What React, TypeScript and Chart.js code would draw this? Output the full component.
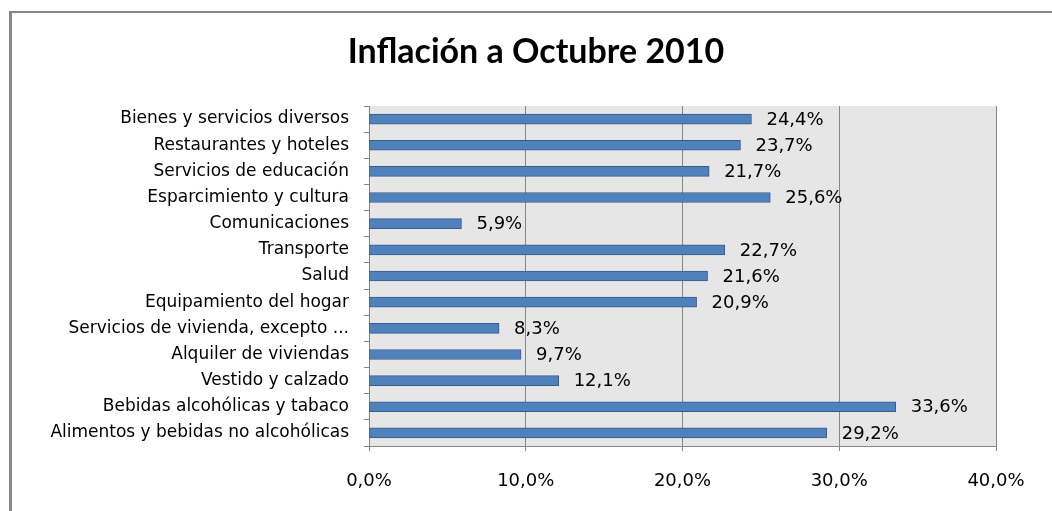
import React, { useEffect, useRef } from "react";
import { Chart, registerables } from "chart.js";

Chart.register(...registerables);

const categories = [
  "Bienes y servicios diversos",
  "Restaurantes y hoteles",
  "Servicios de educación",
  "Esparcimiento y cultura",
  "Comunicaciones",
  "Transporte",
  "Salud",
  "Equipamiento del hogar",
  "Servicios de vivienda, excepto ...",
  "Alquiler de viviendas",
  "Vestido y calzado",
  "Bebidas alcohólicas y tabaco",
  "Alimentos y bebidas no alcohólicas",
];
const values = [24.4, 23.7, 21.7, 25.6, 5.9, 22.7, 21.6, 20.9, 8.3, 9.7, 12.1, 33.6, 29.2];
const xTicks = [0, 10, 20, 30, 40];
const title = "Inflación a Octubre 2010";

const fmt = (v: number) => v.toFixed(1).replace(".", ",") + "%";

const FONT = "'DejaVu Sans'";

const framePlugin = {
  id: "frame",
  beforeDraw(chart: any) {
    const { ctx, chartArea } = chart;
    ctx.save();
    ctx.fillStyle = "#ffffff";
    ctx.fillRect(0, 0, chart.width, chart.height);
    ctx.fillStyle = "#878787";
    ctx.fillRect(9, 11, 3, chart.height);
    ctx.fillRect(9, 11, chart.width, 2);
    ctx.fillStyle = "#e6e6e6";
    ctx.fillRect(chartArea.left, chartArea.top, chartArea.right - chartArea.left, chartArea.bottom - chartArea.top);
    ctx.restore();
  },
};

const titlePlugin = {
  id: "customTitle",
  afterDraw(chart: any) {
    const { ctx } = chart;
    ctx.save();
    ctx.font = "bold 34px Lato";
    ctx.fillStyle = "#000000";
    ctx.textAlign = "center";
    ctx.textBaseline = "middle";
    ctx.fillText(title, 536, 52);
    ctx.restore();
  },
};

const labelPlugin = {
  id: "valueLabels",
  afterDatasetsDraw(chart: any) {
    const { ctx } = chart;
    const meta = chart.getDatasetMeta(0);
    ctx.save();
    ctx.font = `18px ${FONT}`;
    ctx.fillStyle = "#000000";
    ctx.textAlign = "left";
    ctx.textBaseline = "middle";
    meta.data.forEach((el: any, i: number) => {
      ctx.fillText(fmt(values[i]), el.x + 15, el.y + 1);
    });
    ctx.restore();
  },
};

export default function App() {
  const ref = useRef<HTMLCanvasElement>(null);
  useEffect(() => {
    if (!ref.current) return;
    const chart = new Chart(ref.current, {
      type: "bar",
      data: {
        labels: categories,
        datasets: [
          {
            data: values,
            backgroundColor: "#4f81bd",
            borderColor: "#385d8a",
            borderWidth: 1,
            borderSkipped: false,
            barThickness: 10,
          },
        ],
      },
      options: {
        indexAxis: "y",
        animation: false,
        responsive: false,
        layout: { padding: { left: 0, right: 56, top: 106, bottom: 0 } },
        plugins: {
          legend: { display: false },
          tooltip: { enabled: false },
          title: { display: false },
        },
        scales: {
          x: {
            min: 0,
            max: 40,
            afterBuildTicks: (scale: any) => {
              scale.ticks = xTicks.map((v) => ({ value: v }));
            },
            afterFit: (scale: any) => {
              scale.height = 65;
            },
            grid: {
              color: "#868686",
              drawTicks: true,
              tickLength: 5,
              tickColor: "#868686",
            },
            border: { display: true, color: "#868686" },
            ticks: {
              color: "#000000",
              font: { family: FONT, size: 18 },
              padding: 20,
              callback: (v: any) => fmt(Number(v)),
            },
          },
          y: {
            afterFit: (scale: any) => {
              scale.width = 369;
            },
            grid: {
              drawOnChartArea: false,
              drawTicks: true,
              tickLength: 5,
              color: "#868686",
              tickColor: "#868686",
              offset: true,
            },
            border: { display: true, color: "#868686" },
            ticks: {
              color: "#000000",
              font: { family: FONT, size: 17 },
              padding: 15,
            },
          },
        },
      },
      plugins: [framePlugin, labelPlugin, titlePlugin],
    });
    return () => chart.destroy();
  }, []);
  return (
    <div style={{ position: "absolute", left: 0, top: 0, width: 1052, height: 511 }}>
      <canvas ref={ref} width={1052} height={511} style={{ display: "block" }} />
    </div>
  );
}
